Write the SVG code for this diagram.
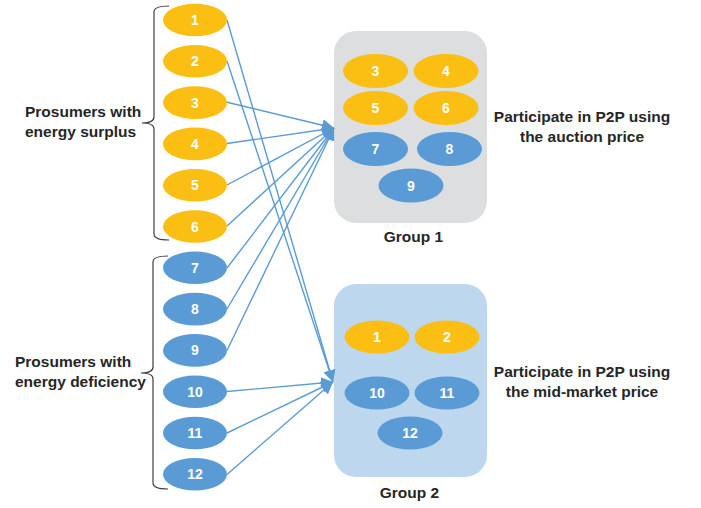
<svg xmlns="http://www.w3.org/2000/svg" width="701" height="508" viewBox="0 0 701 508">
<defs>
<style>
.y{fill:#FBBF14}
.b{fill:#5B9BD5}
.n{font-family:"Liberation Sans",Arial,sans-serif;font-weight:bold;font-size:14px;fill:#ffffff;text-anchor:middle}
.t{font-family:"Liberation Sans",Arial,sans-serif;font-weight:bold;font-size:15.5px;fill:#262626}
.c{text-anchor:middle}
.ln{stroke:#5B9BD5;stroke-width:1.4;fill:none;marker-end:url(#ah)}
.br{stroke:#404040;stroke-width:1.2;fill:none}
</style>
<marker id="ah" markerUnits="userSpaceOnUse" markerWidth="14" markerHeight="12" refX="12" refY="6" orient="auto">
<path d="M0,0 L12,6 L0,12 Z" fill="#5B9BD5"/>
</marker>
</defs>
<rect width="701" height="508" fill="#ffffff"/>

<g id="group1">
<rect x="334" y="31" width="153" height="192" rx="22" fill="#DDDEE0"/>
<ellipse class="y" cx="375.5" cy="71" rx="32.5" ry="17"/><text class="n" x="375.5" y="76">3</text>
<ellipse class="y" cx="446" cy="71" rx="32.5" ry="17"/><text class="n" x="446" y="76">4</text>
<ellipse class="y" cx="375.5" cy="108" rx="32.5" ry="17"/><text class="n" x="375.5" y="113">5</text>
<ellipse class="y" cx="446" cy="108" rx="32.5" ry="17"/><text class="n" x="446" y="113">6</text>
<ellipse class="b" cx="375.5" cy="149" rx="32.5" ry="17"/><text class="n" x="375.5" y="154">7</text>
<ellipse class="b" cx="449.5" cy="149" rx="32.5" ry="17"/><text class="n" x="449.5" y="154">8</text>
<ellipse class="b" cx="411" cy="185.5" rx="32.5" ry="17"/><text class="n" x="411" y="190.5">9</text>
<text class="t c" x="413.5" y="242">Group 1</text>
</g>

<g id="group2">
<rect x="334" y="284" width="153" height="193" rx="22" fill="#BDD7EE"/>
<ellipse class="y" cx="377" cy="337" rx="32.5" ry="16.5"/><text class="n" x="377" y="342">1</text>
<ellipse class="y" cx="447" cy="337" rx="32.5" ry="16.5"/><text class="n" x="447" y="342">2</text>
<ellipse class="b" cx="377" cy="393" rx="32.5" ry="16.5"/><text class="n" x="377" y="398">10</text>
<ellipse class="b" cx="447" cy="393" rx="32.5" ry="16.5"/><text class="n" x="447" y="398">11</text>
<ellipse class="b" cx="410" cy="433" rx="32.5" ry="16.5"/><text class="n" x="410" y="438">12</text>
<text class="t c" x="409.5" y="498">Group 2</text>
</g>

<g id="connectors">
<line class="ln" x1="227" y1="20" x2="333" y2="382"/>
<line class="ln" x1="227" y1="61" x2="333" y2="382"/>
<line class="ln" x1="226" y1="102" x2="334" y2="128"/>
<line class="ln" x1="227" y1="143.5" x2="334" y2="128"/>
<line class="ln" x1="227" y1="185" x2="334" y2="128"/>
<line class="ln" x1="227" y1="226" x2="334" y2="128"/>
<line class="ln" x1="227" y1="268" x2="334" y2="128"/>
<line class="ln" x1="227" y1="309" x2="334" y2="128"/>
<line class="ln" x1="227" y1="350.5" x2="334" y2="128"/>
<line class="ln" x1="227" y1="391.5" x2="333" y2="382"/>
<line class="ln" x1="227" y1="433" x2="333" y2="382"/>
<line class="ln" x1="227" y1="474.5" x2="333" y2="382"/>
</g>

<g id="brackets">
<path class="br" d="M169,6 Q154,6 154,12 L154,117 Q154,123 142,123 Q154,123 154,129 L154,234 Q154,240 169,240"/>
<path class="br" d="M168,256 Q153,256 153,262 L153,367 Q153,373 141,373 Q153,373 153,379 L153,483 Q153,489 168,489"/>
</g>

<g id="p1"><ellipse class="y" cx="195" cy="20" rx="32" ry="16.3"/><text class="n" x="195" y="25">1</text></g>
<g id="p2"><ellipse class="y" cx="195" cy="61.3" rx="32" ry="16.3"/><text class="n" x="195" y="66.3">2</text></g>
<g id="p3"><ellipse class="y" cx="195" cy="102.6" rx="32" ry="16.3"/><text class="n" x="195" y="107.6">3</text></g>
<g id="p4"><ellipse class="y" cx="195" cy="143.9" rx="32" ry="16.3"/><text class="n" x="195" y="148.9">4</text></g>
<g id="p5"><ellipse class="y" cx="195" cy="185.2" rx="32" ry="16.3"/><text class="n" x="195" y="190.2">5</text></g>
<g id="p6"><ellipse class="y" cx="195" cy="226.5" rx="32" ry="16.3"/><text class="n" x="195" y="231.5">6</text></g>
<g id="p7"><ellipse class="b" cx="195" cy="267.8" rx="32" ry="16.3"/><text class="n" x="195" y="272.8">7</text></g>
<g id="p8"><ellipse class="b" cx="195" cy="309.1" rx="32" ry="16.3"/><text class="n" x="195" y="314.1">8</text></g>
<g id="p9"><ellipse class="b" cx="195" cy="350.4" rx="32" ry="16.3"/><text class="n" x="195" y="355.4">9</text></g>
<g id="p10"><ellipse class="b" cx="195" cy="391.7" rx="32" ry="16.3"/><text class="n" x="195" y="396.7">10</text></g>
<g id="p11"><ellipse class="b" cx="195" cy="433" rx="32" ry="16.3"/><text class="n" x="195" y="438">11</text></g>
<g id="p12"><ellipse class="b" cx="195" cy="474.3" rx="32" ry="16.3"/><text class="n" x="195" y="479.3">12</text></g>

<g id="labels">
<text class="t" x="25" y="117">Prosumers with</text>
<text class="t" x="25" y="137">energy surplus</text>
<text class="t" x="15" y="367">Prosumers with</text>
<text class="t" x="15" y="387">energy deficiency</text>
<text class="t c" x="582" y="122">Participate in P2P using</text>
<text class="t c" x="582" y="142">the auction price</text>
<text class="t c" x="582" y="377">Participate in P2P using</text>
<text class="t c" x="582" y="397">the mid-market price</text>
</g>
</svg>
